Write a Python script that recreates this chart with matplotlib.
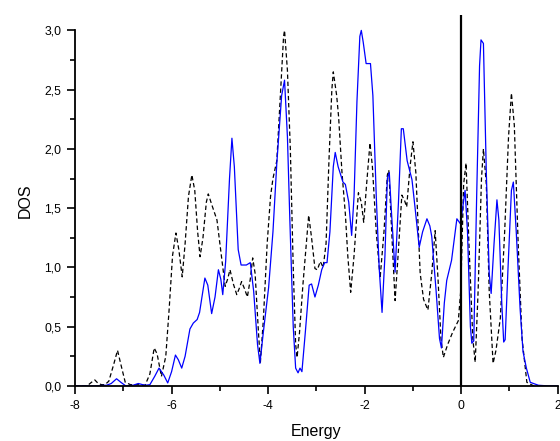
import matplotlib
matplotlib.use("Agg")
import matplotlib.pyplot as plt
from matplotlib.ticker import MultipleLocator, FuncFormatter

plt.rcParams['font.family'] = ['Liberation Sans', 'DejaVu Sans']

# total DOS, blue solid curve (energy, dos)
blue_e = [-8.0, -7.6, -7.35, -7.25, -7.14, -7.05, -6.95, -6.8, -6.69, -6.55, -6.45, -6.35,
          -6.26, -6.16, -6.08, -6.0, -5.92, -5.86, -5.79, -5.72, -5.62, -5.55, -5.47, -5.42,
          -5.31, -5.25, -5.17, -5.10, -5.03, -4.98, -4.94, -4.88, -4.80, -4.75, -4.70, -4.62,
          -4.56, -4.45, -4.37, -4.30, -4.22, -4.17, -4.10, -3.99, -3.90, -3.82, -3.72, -3.66,
          -3.60, -3.55, -3.48, -3.43, -3.38, -3.34, -3.30, -3.23, -3.15, -3.10, -3.03, -2.96,
          -2.89, -2.83, -2.78, -2.72, -2.65, -2.61, -2.55, -2.45, -2.40, -2.33, -2.27, -2.22,
          -2.16, -2.10, -2.07, -2.03, -1.97, -1.88, -1.83, -1.76, -1.70, -1.64, -1.58, -1.53,
          -1.49, -1.45, -1.37, -1.30, -1.24, -1.20, -1.12, -1.02, -0.95, -0.87, -0.80, -0.71,
          -0.65, -0.61, -0.52, -0.45, -0.41, -0.35, -0.30, -0.20, -0.14, -0.09, -0.02, 0.03,
          0.08, 0.13, 0.19, 0.22, 0.26, 0.32, 0.38, 0.41, 0.46, 0.52, 0.58, 0.62,
          0.68, 0.74, 0.78, 0.84, 0.88, 0.91, 0.97, 1.04, 1.08, 1.14, 1.22, 1.28,
          1.35, 1.43, 1.6, 1.8, 2.0]
blue_d = [0.0, 0.0, 0.005, 0.02, 0.06, 0.03, 0.0, 0.005, 0.02, 0.005, 0.01, 0.08,
          0.15, 0.09, 0.025, 0.12, 0.26, 0.22, 0.15, 0.25, 0.48, 0.53, 0.56, 0.62,
          0.91, 0.85, 0.61, 0.75, 0.98, 0.90, 0.77, 1.05, 1.75, 2.09, 1.85, 1.15,
          1.02, 1.02, 1.04, 0.80, 0.35, 0.19, 0.45, 0.83, 1.30, 1.88, 2.45, 2.58,
          2.10, 1.40, 0.50, 0.15, 0.11, 0.15, 0.12, 0.45, 0.85, 0.86, 0.75, 0.85,
          0.98, 1.04, 1.04, 1.30, 1.85, 1.97, 1.85, 1.72, 1.70, 1.55, 1.27, 1.60,
          2.40, 2.95, 3.00, 2.90, 2.72, 2.72, 2.45, 1.60, 1.00, 0.62, 1.10, 1.75,
          1.80, 1.50, 0.96, 1.55, 2.17, 2.17, 1.90, 1.74, 1.48, 1.17, 1.30, 1.41,
          1.35, 1.26, 0.80, 0.40, 0.32, 0.70, 0.89, 1.06, 1.25, 1.41, 1.37, 1.50,
          1.65, 1.30, 0.50, 0.36, 0.38, 1.60, 2.70, 2.92, 2.89, 1.80, 0.95, 0.78,
          1.20, 1.57, 1.40, 0.70, 0.37, 0.39, 1.00, 1.65, 1.72, 1.30, 0.65, 0.29,
          0.15, 0.03, 0.005, 0.0, 0.0]

# second DOS, black dashed curve
dash_e = [-8.0, -7.75, -7.66, -7.59, -7.52, -7.45, -7.38, -7.30, -7.20, -7.12, -7.05, -6.96,
          -6.85, -6.70, -6.55, -6.45, -6.36, -6.30, -6.21, -6.12, -6.05, -5.98, -5.91, -5.85,
          -5.78, -5.72, -5.65, -5.58, -5.52, -5.46, -5.41, -5.35, -5.28, -5.24, -5.16, -5.06,
          -4.97, -4.89, -4.84, -4.79, -4.72, -4.65, -4.60, -4.55, -4.49, -4.43, -4.37, -4.32,
          -4.27, -4.20, -4.16, -4.10, -4.02, -3.95, -3.90, -3.82, -3.74, -3.68, -3.66, -3.60,
          -3.54, -3.48, -3.43, -3.40, -3.35, -3.28, -3.22, -3.16, -3.10, -3.03, -2.98, -2.92,
          -2.86, -2.80, -2.74, -2.68, -2.65, -2.58, -2.54, -2.47, -2.40, -2.35, -2.29, -2.22,
          -2.13, -2.07, -2.02, -1.96, -1.89, -1.84, -1.76, -1.68, -1.60, -1.53, -1.50, -1.44,
          -1.37, -1.30, -1.23, -1.17, -1.13, -1.06, -1.00, -0.94, -0.85, -0.78, -0.69, -0.61,
          -0.54, -0.48, -0.42, -0.37, -0.28, -0.18, -0.06, -0.01, 0.05, 0.10, 0.16, 0.24,
          0.29, 0.35, 0.42, 0.46, 0.52, 0.58, 0.66, 0.72, 0.81, 0.90, 0.98, 1.04,
          1.10, 1.18, 1.26, 1.36, 1.5, 1.7]
dash_d = [0.0, 0.0, 0.03, 0.05, 0.02, 0.01, 0.01, 0.04, 0.18, 0.30, 0.18, 0.03,
          0.01, 0.01, 0.005, 0.10, 0.32, 0.27, 0.08, 0.25, 0.65, 1.10, 1.29, 1.15,
          0.92, 1.20, 1.60, 1.78, 1.65, 1.30, 1.09, 1.25, 1.55, 1.62, 1.52, 1.40,
          1.10, 0.84, 0.90, 0.98, 0.86, 0.77, 0.82, 0.88, 0.82, 0.75, 0.90, 1.08,
          0.95, 0.45, 0.20, 0.55, 1.20, 1.60, 1.75, 1.90, 2.50, 2.95, 3.00, 2.66,
          2.00, 1.00, 0.35, 0.24, 0.45, 0.85, 1.15, 1.44, 1.25, 0.99, 0.98, 1.05,
          1.00, 1.20, 1.90, 2.50, 2.65, 2.45, 2.27, 1.80, 1.45, 1.10, 0.79, 1.10,
          1.63, 1.55, 1.38, 1.70, 2.05, 1.85, 1.30, 0.91, 1.30, 1.78, 1.82, 1.30,
          0.72, 1.15, 1.61, 1.56, 1.51, 1.85, 2.06, 1.80, 0.95, 0.73, 0.64, 0.95,
          1.31, 0.90, 0.40, 0.24, 0.35, 0.45, 0.55, 0.80, 1.70, 1.88, 1.20, 0.40,
          0.20, 0.80, 1.75, 2.00, 1.70, 0.80, 0.19, 0.30, 0.57, 1.30, 2.10, 2.47,
          2.20, 1.20, 0.40, 0.03, 0.0, 0.0]

fermi = 0.0

fig = plt.figure(figsize=(5.6, 4.41), dpi=100)
ax = fig.add_axes([0.134, 0.125, 0.862, 0.841])

ax.plot(dash_e, dash_d, color='black', linestyle=(0, (3.5, 2.2)), linewidth=0.9)
ax.plot(blue_e, blue_d, color='#0000ff', linewidth=0.9)
ax.axvline(fermi, color='black', linewidth=1.6)

ax.set_xlim(-8, 2)
ax.set_ylim(0, 3.13)

for side in ['top', 'right']:
    ax.spines[side].set_visible(False)
for side in ['left', 'bottom']:
    ax.spines[side].set_linewidth(1.3)
# y axis line stops at the last major tick
ax.spines['left'].set_bounds(0, 3.0)

ax.xaxis.set_major_locator(MultipleLocator(2))
ax.xaxis.set_minor_locator(MultipleLocator(1))
ax.yaxis.set_major_locator(MultipleLocator(0.5))
ax.yaxis.set_minor_locator(MultipleLocator(0.25))
ax.xaxis.set_major_formatter(FuncFormatter(lambda v, p: '%d' % round(v)))
ax.yaxis.set_major_formatter(FuncFormatter(lambda v, p: ('%.1f' % v).replace('.', ',')))

ax.tick_params(which='major', direction='out', length=6, width=1.2, labelsize=8.8, pad=4)
ax.tick_params(which='minor', direction='out', length=3.5, width=1.2)

ax.set_xlabel('Energy', fontsize=11.5, labelpad=9)
ax.set_ylabel('DOS', fontsize=11.5, labelpad=8)

plt.savefig('out.png', dpi=100)
